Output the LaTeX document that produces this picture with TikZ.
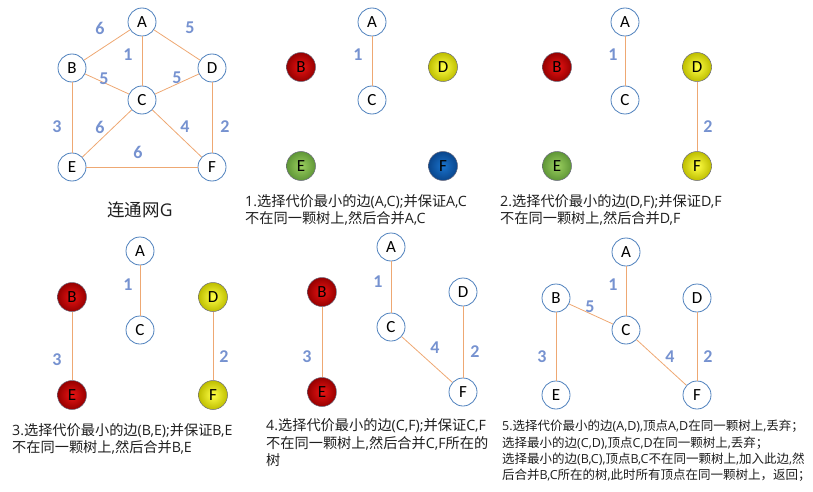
\documentclass[tikz,border=0pt]{standalone}
\usepackage{fontspec}
\usepackage{tikz}
\usetikzlibrary{positioning}
\setmainfont{Open Sans}
\newfontfamily\zhfont{Noto Sans CJK SC}
\newfontfamily\enfont{Open Sans}
\newfontfamily\vtxfont{Carlito}
% CJK characters switch to the CJK font, everything else back to Latin
\XeTeXinterchartokenstate=1
\newXeTeXintercharclass\zhclass
\newcount\zhcnt
\zhcnt="4E00
\loop
  \XeTeXcharclass\zhcnt=\zhclass
  \advance\zhcnt by 1
\ifnum\zhcnt<"A000 \repeat
\zhcnt="FF00
\loop
  \XeTeXcharclass\zhcnt=\zhclass
  \advance\zhcnt by 1
\ifnum\zhcnt<"FFF0 \repeat
\XeTeXinterchartoks 0 \zhclass = {\zhfont}
\XeTeXinterchartoks 4095 \zhclass = {\zhfont}
\XeTeXinterchartoks \zhclass 0 = {\enfont}
\definecolor{vtxblue}{RGB}{79,129,189}
\definecolor{edgeorange}{RGB}{238,168,115}
\definecolor{wtblue}{RGB}{118,146,208}
\definecolor{rimgray}{RGB}{105,105,125}
\definecolor{redin}{RGB}{235,20,20}
\definecolor{redout}{RGB}{150,0,0}
\definecolor{yelin}{RGB}{255,255,70}
\definecolor{yelout}{RGB}{190,190,0}
\definecolor{grnin}{RGB}{155,208,95}
\definecolor{grnout}{RGB}{95,150,55}
\definecolor{bluin}{RGB}{25,115,205}
\definecolor{bluout}{RGB}{10,70,140}
\definecolor{txtdark}{RGB}{30,30,30}
\tikzset{
  vtx/.style={circle, draw=vtxblue, fill=white, minimum size=28pt,
    inner sep=0pt, line width=0.8pt,
    font=\vtxfont\fontsize{17}{17}\selectfont},
  redvtx/.style={vtx, minimum size=29pt, draw=rimgray, line width=0.5pt,
    inner color=redin, outer color=redout},
  yelvtx/.style={vtx, minimum size=29pt, draw=rimgray, line width=0.5pt,
    inner color=yelin, outer color=yelout},
  grnvtx/.style={vtx, minimum size=29pt, draw=rimgray, line width=0.5pt,
    inner color=grnin, outer color=grnout},
  bluvtx/.style={vtx, minimum size=29pt, draw=rimgray, line width=0.5pt,
    inner color=bluin, outer color=bluout},
  wedge/.style={draw=edgeorange, line width=0.8pt},
  wt/.style={text=wtblue, inner sep=0pt,
    font=\vtxfont\bfseries\fontsize{18}{18}\selectfont},
  % base anchor sits on the last line
  steptext/.style={anchor=base west, align=left, inner sep=0pt, text=txtdark,
    font=\enfont\fontsize{14.2}{17.5}\selectfont},
  smalltext/.style={steptext, font=\enfont\fontsize{12.5}{16.3}\selectfont}
}
\begin{document}
\begin{tikzpicture}[x=1pt, y=-1pt]
  \useasboundingbox (0,0) rectangle (813,492);

  % Connected network G
  \node[vtx] (a1) at (142,22) {A};
  \node[vtx] (b1) at (72,68) {B};
  \node[vtx] (d1) at (212,68) {D};
  \node[vtx] (c1) at (142,100) {C};
  \node[vtx] (e1) at (72,167) {E};
  \node[vtx] (f1) at (212,167) {F};
  \draw[wedge] (a1) -- (b1);
  \draw[wedge] (a1) -- (d1);
  \draw[wedge] (a1) -- (c1);
  \draw[wedge] (b1) -- (c1);
  \draw[wedge] (c1) -- (d1);
  \draw[wedge] (b1) -- (e1);
  \draw[wedge] (c1) -- (e1);
  \draw[wedge] (c1) -- (f1);
  \draw[wedge] (d1) -- (f1);
  \draw[wedge] (e1) -- (f1);
  \node[wt] (w1ab) at (100,28) {6};
  \node[wt] (w1ad) at (190,28) {5};
  \node[wt] (w1ac) at (128,55) {1};
  \node[wt] (w1bc) at (104,79) {5};
  \node[wt] (w1cd) at (177,78) {5};
  \node[wt] (w1be) at (57,127) {3};
  \node[wt] (w1ce) at (100,127) {6};
  \node[wt] (w1cf) at (185,127) {4};
  \node[wt] (w1df) at (225,127) {2};
  \node[wt] (w1ef) at (138,152) {6};
  \node[text=txtdark, font=\enfont\fontsize{17.5}{17.5}\selectfont] (cap1) at (140,210) {连通网G};

  % Step 1
  \node[vtx] (a2) at (372,22) {A};
  \node[redvtx] (b2) at (301,67) {B};
  \node[yelvtx] (d2) at (443,67) {D};
  \node[vtx] (c2) at (372,100) {C};
  \node[grnvtx] (e2) at (301,166) {E};
  \node[bluvtx] (f2) at (443,166) {F};
  \draw[wedge] (a2) -- (c2);
  \node[wt] (w2ac) at (358,55) {1};
  \node[steptext] (t2) at (245,223.5) {1.选择代价最小的边(A,C);并保证A,C\\不在同一颗树上,然后合并A,C};

  % Step 2
  \node[vtx] (a3) at (625,22) {A};
  \node[redvtx] (b3) at (557,67) {B};
  \node[yelvtx] (d3) at (697,67) {D};
  \node[vtx] (c3) at (625,100) {C};
  \node[grnvtx] (e3) at (557,166) {E};
  \node[yelvtx] (f3) at (697,166) {F};
  \draw[wedge] (a3) -- (c3);
  \draw[wedge] (d3) -- (f3);
  \node[wt] (w3ac) at (613,55) {1};
  \node[wt] (w3df) at (708,127) {2};
  \node[steptext] (t3) at (500,223.5) {2.选择代价最小的边(D,F);并保证D,F\\不在同一颗树上,然后合并D,F};

  % Step 3
  \node[vtx] (a4) at (140,251) {A};
  \node[redvtx] (b4) at (72,297) {B};
  \node[yelvtx] (d4) at (213,297) {D};
  \node[vtx] (c4) at (140,330) {C};
  \node[redvtx] (e4) at (72,395) {E};
  \node[yelvtx] (f4) at (213,395) {F};
  \draw[wedge] (a4) -- (c4);
  \draw[wedge] (b4) -- (e4);
  \draw[wedge] (d4) -- (f4);
  \node[wt] (w4ac) at (128,285) {1};
  \node[wt] (w4be) at (57,360) {3};
  \node[wt] (w4df) at (224,357) {2};
  \node[steptext] (t4) at (12,452.5) {3.选择代价最小的边(B,E);并保证B,E\\不在同一颗树上,然后合并B,E};

  % Step 4
  \node[vtx] (a5) at (391,247) {A};
  \node[redvtx] (b5) at (322,292) {B};
  \node[vtx] (d5) at (463,292) {D};
  \node[vtx] (c5) at (391,327) {C};
  \node[redvtx] (e5) at (322,392) {E};
  \node[vtx] (f5) at (463,392) {F};
  \draw[wedge] (a5) -- (c5);
  \draw[wedge] (b5) -- (e5);
  \draw[wedge] (c5) -- (f5);
  \draw[wedge] (d5) -- (f5);
  \node[wt] (w5ac) at (378,282) {1};
  \node[wt] (w5be) at (307,357) {3};
  \node[wt] (w5cf) at (435,348) {4};
  \node[wt] (w5df) at (475,352) {2};
  \node[steptext] (t5) at (266,465.5) {4.选择代价最小的边(C,F);并保证C,F\\不在同一颗树上,然后合并C,F所在的\\树};

  % Step 5
  \node[vtx] (a6) at (626,252) {A};
  \node[vtx] (b6) at (556,298) {B};
  \node[vtx] (d6) at (697,298) {D};
  \node[vtx] (c6) at (626,330) {C};
  \node[vtx] (e6) at (556,395) {E};
  \node[vtx] (f6) at (697,395) {F};
  \draw[wedge] (a6) -- (c6);
  \draw[wedge] (b6) -- (c6);
  \draw[wedge] (b6) -- (e6);
  \draw[wedge] (c6) -- (f6);
  \draw[wedge] (d6) -- (f6);
  \node[wt] (w6ac) at (613,285) {1};
  \node[wt] (w6bc) at (590,307) {5};
  \node[wt] (w6be) at (542,357) {3};
  \node[wt] (w6cf) at (670,357) {4};
  \node[wt] (w6df) at (708,357) {2};
  \node[smalltext] (t6) at (502,479.7) {5.选择代价最小的边(A,D),顶点A,D在同一颗树上,丢弃；\\选择最小的边(C,D),顶点C,D在同一颗树上,丢弃；\\选择最小的边(B,C),顶点B,C不在同一颗树上,加入此边,然\\后合并B,C所在的树,此时所有顶点在同一颗树上，返回；};
\end{tikzpicture}
\end{document}
